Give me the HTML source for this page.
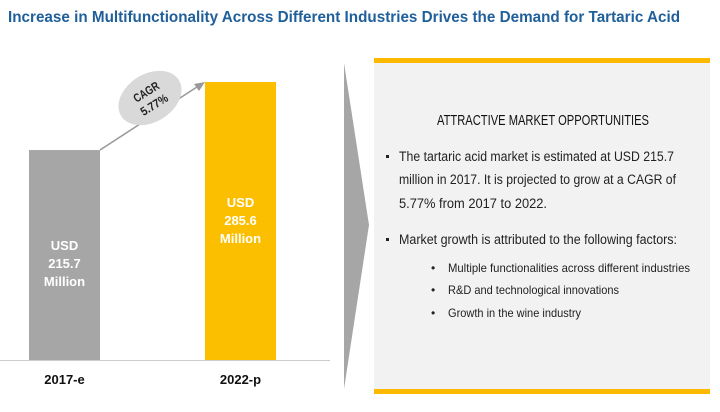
<!DOCTYPE html>
<html><head><meta charset="utf-8"><style>
body{margin:0;width:720px;height:412px;background:#fff;overflow:hidden;font-family:"Liberation Sans",sans-serif}
svg{position:absolute;left:0;top:0}
</style></head><body>
<svg width="720" height="412">
<text x="8" y="22" font-size="16" font-weight="bold" fill="#1f5f9a" textLength="672" lengthAdjust="spacingAndGlyphs">Increase in Multifunctionality Across Different Industries Drives the Demand for Tartaric Acid</text>
<line x1="0" y1="360.5" x2="330" y2="360.5" stroke="#ccc"/>
<g id="bars"></g>
<line x1="100" y1="150" x2="200" y2="85" stroke="#999" stroke-width="1.5"/>
<polygon points="205,82 194,84 199,91" fill="#999"/>
<g transform="translate(150,98) rotate(-32)">
<ellipse rx="34" ry="24" fill="#d9d9d9"/>
<text y="-3" text-anchor="middle" font-size="12" font-weight="bold" fill="#222" textLength="28" lengthAdjust="spacingAndGlyphs">CAGR</text>
<text y="12" text-anchor="middle" font-size="12" font-weight="bold" fill="#222" textLength="30" lengthAdjust="spacingAndGlyphs">5.77%</text>
</g>
<polygon points="344,63 369,225 344,389" fill="#a6a6a6"/>
<rect x="374" y="58" width="336" height="335" fill="#f2f2f2"/>
<rect x="374" y="58" width="336" height="5" fill="#fcb900"/>
<rect x="374" y="389" width="336" height="5" fill="#fcb900"/>
<text x="437" y="125" font-size="15" fill="#111" textLength="212" lengthAdjust="spacingAndGlyphs">ATTRACTIVE MARKET OPPORTUNITIES</text>
<g font-size="13.5" fill="#222">
<rect x="386" y="155" width="3" height="3" fill="#222"/>
<text x="399" y="161" textLength="275" lengthAdjust="spacingAndGlyphs">The tartaric acid market is estimated at USD 215.7</text>
<text x="399" y="184" textLength="277" lengthAdjust="spacingAndGlyphs">million in 2017. It is projected to grow at a CAGR of</text>
<text x="399" y="208" textLength="148" lengthAdjust="spacingAndGlyphs">5.77% from 2017 to 2022.</text>
<rect x="386" y="238" width="3" height="3" fill="#222"/>
<text x="399" y="244" textLength="278" lengthAdjust="spacingAndGlyphs">Market growth is attributed to the following factors:</text>
<g font-size="12">
<text x="431" y="272">•</text><text x="448" y="272" textLength="242" lengthAdjust="spacingAndGlyphs">Multiple functionalities across different industries</text>
<text x="431" y="294">•</text><text x="448" y="294" textLength="171" lengthAdjust="spacingAndGlyphs">R&amp;D and technological innovations</text>
<text x="431" y="317">•</text><text x="448" y="317" textLength="133" lengthAdjust="spacingAndGlyphs">Growth in the wine industry</text>
</g></g>
</svg>
<script>
const categories=["2017-e","2022-p"];
const values=[215.7,285.6];
const valueLabels=["215.7","285.6"];
const colors=["#a6a6a6","#fcbf00"];
const baseY=360, scale=278/285.6;
const xPos=i=>29+i*176;
const yPos=v=>baseY-v*scale;
const g=document.getElementById('bars');
const NS="http://www.w3.org/2000/svg";
values.forEach((v,i)=>{
 const r=document.createElementNS(NS,'rect');
 r.setAttribute('x',xPos(i));r.setAttribute('y',yPos(v));
 r.setAttribute('width',71);r.setAttribute('height',baseY-yPos(v));
 r.setAttribute('fill',colors[i]);
 
 
 g.appendChild(r);
 const cx=xPos(i)+35.5;
 const ty=i===0?(yPos(v)+100):(yPos(v)+125);
 ["USD",valueLabels[i],"Million"].forEach((s,k)=>{
  const t=document.createElementNS(NS,'text');
  t.setAttribute('x',cx);t.setAttribute('y',ty+k*18);
  t.setAttribute('text-anchor','middle');t.setAttribute('font-size','13');
  t.setAttribute('font-weight','bold');t.setAttribute('fill','#fff');
  t.textContent=s;
  
  
  g.appendChild(t);
 });
 const c=document.createElementNS(NS,'text');
 c.setAttribute('x',cx);c.setAttribute('y',384);
 c.setAttribute('text-anchor','middle');c.setAttribute('font-size','13');
 c.setAttribute('font-weight','bold');c.setAttribute('fill','#111');
 c.textContent=categories[i];
 
 
 g.appendChild(c);
});
</script>
</body></html>
